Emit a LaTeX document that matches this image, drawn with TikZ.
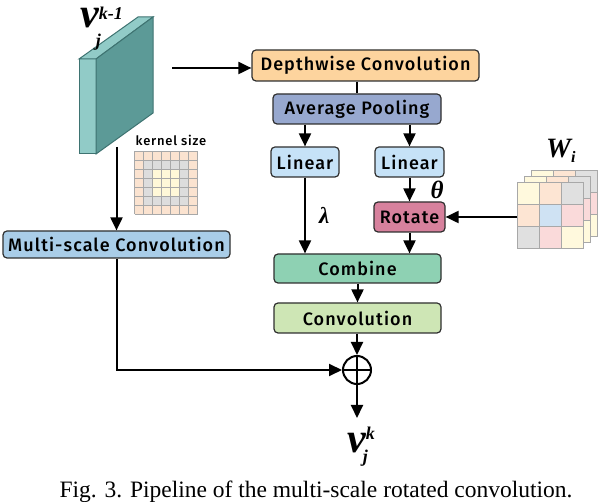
\documentclass[tikz,border=0pt]{standalone}
\usepackage{fontspec}
\newfontfamily\boxfont{Fira Sans Medium}[LetterSpace=6]
\newfontfamily\capfont{Liberation Serif}
\newfontfamily\symfont{Liberation Serif}
\usetikzlibrary{arrows.meta}
\definecolor{dwfill}{HTML}{FDD49E}
\definecolor{avgfill}{HTML}{97A8CF}
\definecolor{linfill}{HTML}{C6E2F7}
\definecolor{rotfill}{HTML}{D7819D}
\definecolor{combfill}{HTML}{8ED1B3}
\definecolor{convfill}{HTML}{CEE6B5}
\definecolor{msfill}{HTML}{A9CDE8}
\definecolor{boxedge}{HTML}{2F2F2F}
\definecolor{slabdark}{HTML}{5C9A97}
\definecolor{slablight}{HTML}{91CBC7}
\definecolor{slabedge}{HTML}{3E7371}
\definecolor{kpeach}{HTML}{FBE3D0}
\definecolor{kgray}{HTML}{DDDDDD}
\definecolor{kyellow}{HTML}{FFF8D8}
\definecolor{kline}{HTML}{A8A8A8}
\definecolor{wyellow}{HTML}{FFF9DD}
\definecolor{wpeach}{HTML}{FDE5D3}
\definecolor{wgray}{HTML}{E0E0E0}
\definecolor{wblue}{HTML}{CFE2F3}
\definecolor{wpink}{HTML}{FADADA}
% v with sub j and a superscript
\newcommand{\featlbl}[3]{{\fontsize{42}{42}\selectfont v}\rlap{\hspace{-3pt}\raisebox{-#3}{\fontsize{18}{18}\selectfont j}}\raisebox{#2}{\fontsize{18}{18}\selectfont #1}}
\begin{document}
\begin{tikzpicture}[x=1pt,y=-1pt,
  box/.style={draw=boxedge, line width=1.2pt, rounded corners=4pt, inner sep=0pt,
    font=\boxfont\fontsize{18}{18}\selectfont},
  arr/.style={line width=2pt, -{Triangle[width=12pt,length=13pt]}},
  sym/.style={font=\symfont\bfseries\itshape, inner sep=0pt}]
  \useasboundingbox (0,0) rectangle (598,502);
  % feature map
  \filldraw[fill=slablight, draw=slabedge, line width=1pt] (79,59) -- (96,59) -- (96,154) -- (79,154) -- cycle;
  \filldraw[fill=slablight, draw=slabedge, line width=1pt] (79,59) -- (138,17) -- (153,17) -- (96,59) -- cycle;
  \filldraw[fill=slabdark, draw=slabedge, line width=1pt] (96,59) -- (153,17) -- (153,113) -- (96,154) -- cycle;
  \node[sym, anchor=base west] (vin) at (80,28) {\featlbl{k-1}{8pt}{19pt}};
  \coordinate (fmR) at (172,68);
  \coordinate (fmB) at (117,147);
  % kernel size
  \node[font=\boxfont\fontsize{13}{13}\selectfont] (ks) at (171,140) {kernel size};
  \fill[kpeach] (134.5,151) rectangle ++(63,63);
  \fill[kgray] (143.5,160) rectangle ++(45,45);
  \fill[kyellow] (152.5,169) rectangle ++(27,27);
  \foreach \k in {0,...,7} {
    \draw[kline, line width=0.8pt] (134.5+9*\k,151) -- ++(0,63);
    \draw[kline, line width=0.8pt] (134.5,151+9*\k) -- ++(63,0);
  }
  % boxes
  \node[box, fill=dwfill, minimum width=227pt, minimum height=31pt] (dw) at (365.5,65.5) {Depthwise Convolution};
  \node[box, fill=avgfill, minimum width=168pt, minimum height=30pt] (avg) at (357,109) {Average Pooling};
  \node[box, fill=linfill, minimum width=68pt, minimum height=30pt] (linL) at (305,162) {Linear};
  \node[box, fill=linfill, minimum width=69pt, minimum height=30pt] (linR) at (409.5,162) {Linear};
  \node[box, fill=rotfill, minimum width=71pt, minimum height=30pt] (rot) at (409.5,217) {Rotate};
  \node[box, fill=combfill, minimum width=167pt, minimum height=29pt] (comb) at (357.5,268.5) {Combine};
  \node[box, fill=convfill, minimum width=167pt, minimum height=30pt] (conv) at (357.5,318) {Convolution};
  \node[box, fill=msfill, minimum width=227pt, minimum height=27pt] (ms) at (116.5,244.5) {Multi-scale Convolution};
  % weights W_i
  \foreach \dx/\dy in {14/-12, 7/-6, 0/0} {
    \begin{scope}[shift={(517+\dx,183+\dy)}]
      \foreach \c [count=\n from 0] in {wyellow,wpeach,wgray,wpeach,wblue,wpink,wgray,wpink,wyellow} {
        \pgfmathtruncatemacro\col{mod(\n,3)}
        \pgfmathtruncatemacro\row{div(\n,3)}
        \filldraw[fill=\c, draw=kline, line width=1pt] (22*\col,22*\row) rectangle ++(22,22);
      }
    \end{scope}
  }
  \coordinate (wL) at (517,217);
  \node[sym, anchor=base west] (wlbl) at (546,158) {{\fontsize{28}{28}\selectfont W}\raisebox{-5pt}{\fontsize{16}{16}\selectfont i}};
  % sum
  \node[circle, draw, line width=2pt, minimum size=28pt, inner sep=0pt] (sum) at (357,370) {};
  \draw[line width=2pt] (sum.north) -- (sum.south) (sum.west) -- (sum.east);
  \coordinate (out) at (357,418);
  \node[sym, anchor=base west] (vout) at (347,453) {\featlbl{k}{13pt}{10pt}};
  % connectors
  \draw[arr] (fmR) -- (fmR -| dw.west);
  \draw[line width=2pt] (dw.south -| avg.north) -- (avg.north);
  \draw[arr] (avg.south -| linL.north) -- (linL.north);
  \draw[arr] (avg.south -| linR.north) -- (linR.north);
  \draw[arr] (linL.south) -- (linL.south |- comb.north) node[midway, right=13pt, sym, font=\symfont\bfseries\itshape\fontsize{23}{23}\selectfont] {λ};
  \draw[arr] (linR.south) -- (rot.north) node[midway, right=20pt, sym, font=\symfont\bfseries\itshape\fontsize{25}{25}\selectfont] {θ};
  \draw[arr] (rot.south) -- (rot.south |- comb.north);
  \draw[arr] (wL) -- (rot.east);
  \draw[arr] (comb.south) -- (comb.south |- conv.north);
  \draw[arr] (conv.south -| sum.north) -- (sum.north);
  \draw[arr] (ms.north |- fmB) -- (ms.north);
  \draw[arr] (ms.south) |- (sum.west);
  \draw[arr] (sum.south) -- (out);
  % caption
  \node[font=\capfont\fontsize{23.5}{23.5}\selectfont, anchor=base] (cap) at (316,498) {Fig. 3. Pipeline of the multi-scale rotated convolution.};
\end{tikzpicture}
\end{document}
